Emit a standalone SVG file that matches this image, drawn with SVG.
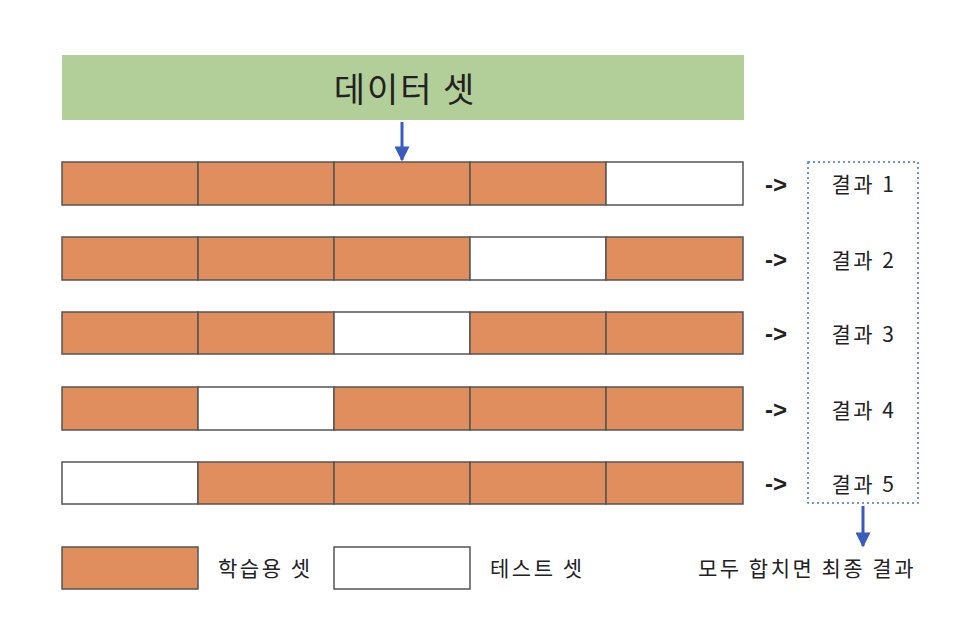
<svg xmlns="http://www.w3.org/2000/svg" width="960" height="618" viewBox="0 0 960 618">
<style>
.t{fill:#e08e5e;stroke:#555;stroke-width:1.5}
.w{fill:#fff;stroke:#555;stroke-width:1.5}
text{font-family:"Noto Sans CJK KR","Liberation Sans",sans-serif;fill:#222}
.r{font-size:21px;text-anchor:middle;letter-spacing:2.5px}
.a{font-size:24px;font-weight:bold;text-anchor:middle;font-family:"Liberation Sans",sans-serif}
.l{font-size:21px;letter-spacing:2.5px}
</style>
<defs>
<marker id="ah" viewBox="0 0 10 10" refX="9" refY="5" markerWidth="5.5" markerHeight="5" orient="auto" markerUnits="strokeWidth"><path d="M0,0 L10,5 L0,10 z" fill="#3a5bbf"/></marker>
</defs>
<rect width="960" height="618" fill="#fff"/>
<g id="dataset"><rect x="62" y="55" width="682" height="65" fill="#b3cf99"/><text x="405" y="102" font-size="34" letter-spacing="2" text-anchor="middle">데이터 셋</text></g>
<g id="row1"><rect class="t" x="62" y="162" width="136" height="43"/><rect class="t" x="198" y="162" width="136" height="43"/><rect class="t" x="334" y="162" width="136" height="43"/><rect class="t" x="470" y="162" width="136" height="43"/><rect class="w" x="606" y="162" width="137" height="43"/></g>
<g id="row2"><rect class="t" x="62" y="237" width="136" height="43"/><rect class="t" x="198" y="237" width="136" height="43"/><rect class="t" x="334" y="237" width="136" height="43"/><rect class="w" x="470" y="237" width="136" height="43"/><rect class="t" x="606" y="237" width="137" height="43"/></g>
<g id="row3"><rect class="t" x="62" y="312" width="136" height="42"/><rect class="t" x="198" y="312" width="136" height="42"/><rect class="w" x="334" y="312" width="136" height="42"/><rect class="t" x="470" y="312" width="136" height="42"/><rect class="t" x="606" y="312" width="137" height="42"/></g>
<g id="row4"><rect class="t" x="62" y="387" width="136" height="43"/><rect class="w" x="198" y="387" width="136" height="43"/><rect class="t" x="334" y="387" width="136" height="43"/><rect class="t" x="470" y="387" width="136" height="43"/><rect class="t" x="606" y="387" width="137" height="43"/></g>
<g id="row5"><rect class="w" x="62" y="462" width="136" height="42"/><rect class="t" x="198" y="462" width="136" height="42"/><rect class="t" x="334" y="462" width="136" height="42"/><rect class="t" x="470" y="462" width="136" height="42"/><rect class="t" x="606" y="462" width="137" height="42"/></g>
<g id="arrows-text"><text class="a" x="776" y="193">-&gt;</text><text class="a" x="776" y="268">-&gt;</text><text class="a" x="776" y="342">-&gt;</text><text class="a" x="776" y="418">-&gt;</text><text class="a" x="776" y="492">-&gt;</text></g>
<g id="results"><rect x="808" y="162" width="110" height="341" fill="none" stroke="#4a6fd0" stroke-width="1.5" stroke-dasharray="2,3"/>
<text class="r" x="864" y="192">결과 1</text><text class="r" x="864" y="268">결과 2</text><text class="r" x="864" y="342">결과 3</text><text class="r" x="864" y="418">결과 4</text><text class="r" x="864" y="492">결과 5</text></g>
<g id="connectors"><line x1="402" y1="122" x2="402" y2="160" stroke="#3a5bbf" stroke-width="3" marker-end="url(#ah)"/><line x1="863" y1="506" x2="863" y2="546" stroke="#3a5bbf" stroke-width="3" marker-end="url(#ah)"/></g>
<g id="legend"><rect class="t" x="62" y="547" width="136" height="42"/><text class="l" x="218" y="576">학습용 셋</text><rect class="w" x="334" y="547" width="136" height="42"/><text class="l" x="490" y="576">테스트 셋</text><text class="r" x="807" y="576">모두 합치면 최종 결과</text></g>
</svg>
